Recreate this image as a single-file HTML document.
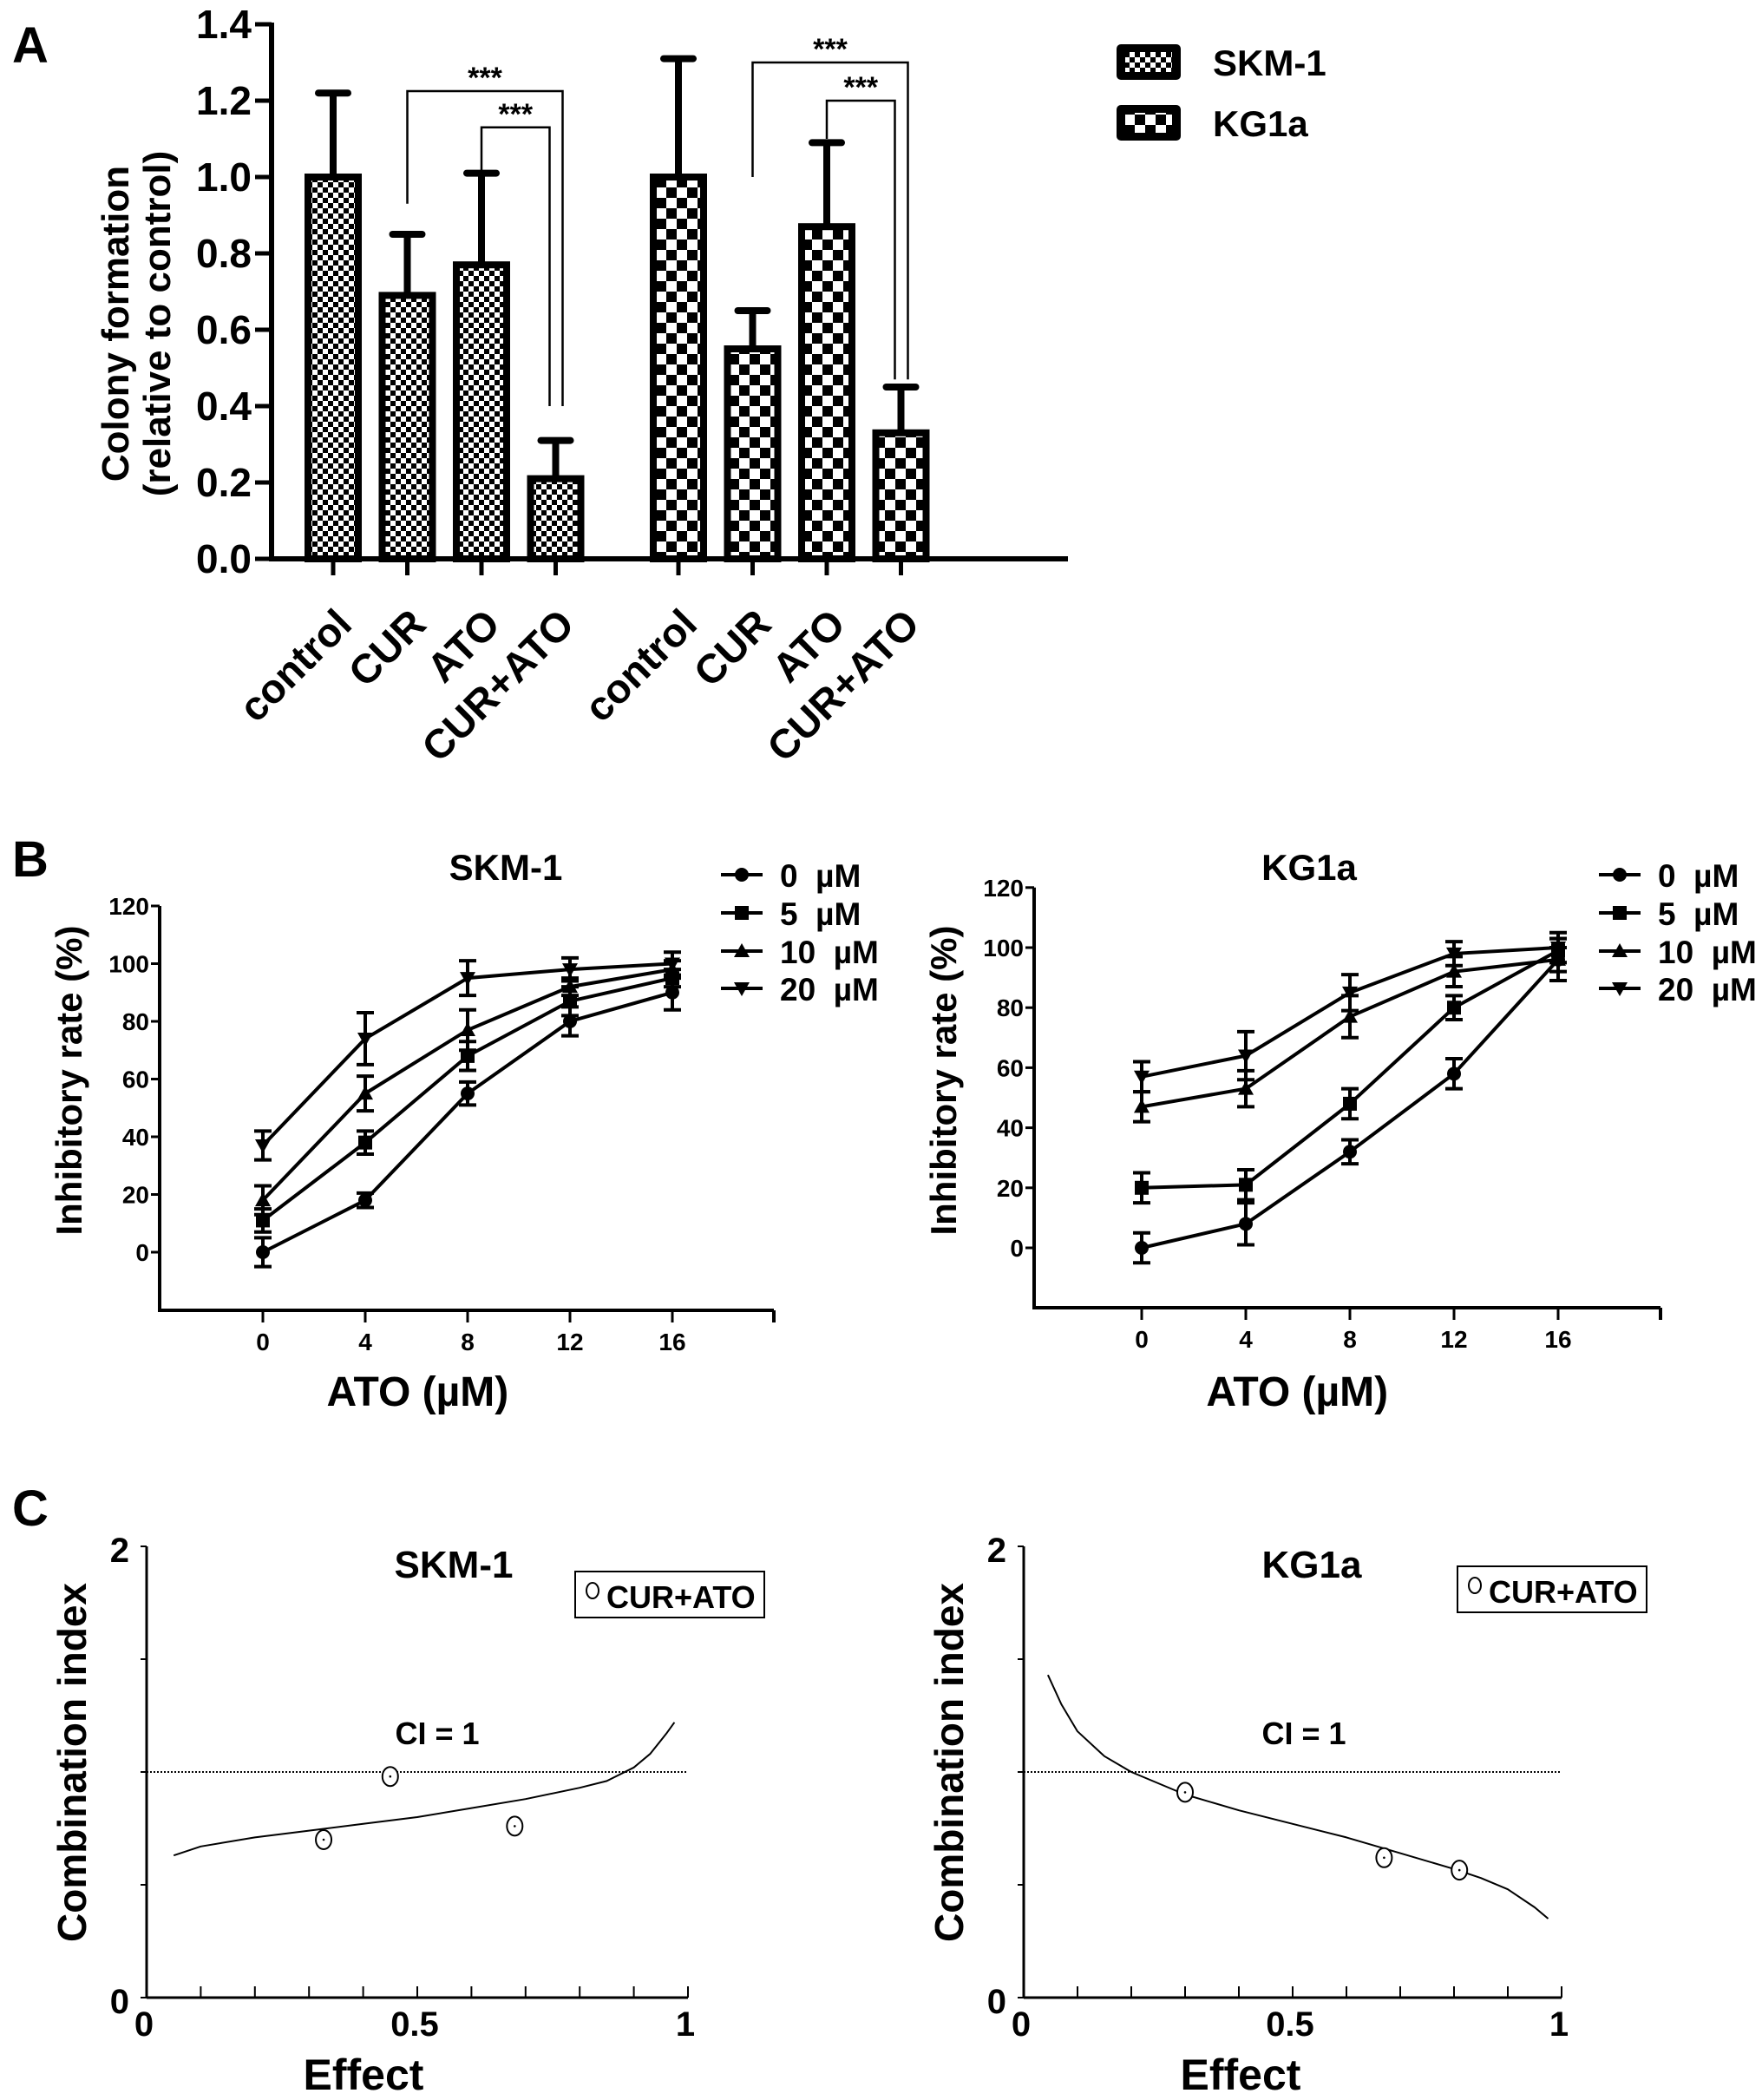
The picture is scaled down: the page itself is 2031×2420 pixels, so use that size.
<!DOCTYPE html>
<html><head><meta charset="utf-8">
<style>
html,body{margin:0;padding:0;background:#fff;}
svg{display:block;}
text{font-family:"Liberation Sans",Arial,sans-serif;font-weight:bold;fill:#000;}
.n{font-family:"Liberation Sans Narrow","Liberation Sans",Arial,sans-serif;}
</style></head>
<body>
<svg id="fig" width="2031" height="2420" viewBox="0 0 2031 2420" xmlns="http://www.w3.org/2000/svg">
<defs>
<pattern id="patS" width="12" height="12" patternUnits="userSpaceOnUse"><rect width="12" height="12" fill="#fff"/><rect width="6" height="6" fill="#000"/><rect x="6" y="6" width="6" height="6" fill="#000"/></pattern>
<pattern id="patK" width="24" height="24" patternUnits="userSpaceOnUse"><rect width="24" height="24" fill="#fff"/><rect width="12" height="12" fill="#000"/><rect x="12" y="12" width="12" height="12" fill="#000"/></pattern>
</defs>
<text x="14" y="72" font-size="58">A</text>
<text x="14" y="1010" font-size="58">B</text>
<text x="14" y="1758" font-size="58">C</text>
<g id="gA"></g>
<g id="gB1"></g>
<g id="gB2"></g>
<g id="gC1"></g>
<g id="gC2"></g>
</svg>
<script>
// ---------- Panel A data ----------
const aCategories = ["control","CUR","ATO","CUR+ATO"];
const aGroups = ["SKM-1","KG1a"];
const aSkmValues = [1.0, 0.69, 0.77, 0.21];
const aSkmErrors = [0.22, 0.16, 0.24, 0.10];
const aKgValues = [1.0, 0.55, 0.87, 0.33];
const aKgErrors = [0.31, 0.10, 0.22, 0.12];
const aTicks = [0.0,0.2,0.4,0.6,0.8,1.0,1.2,1.4];
const aTickLabels = ["0.0","0.2","0.4","0.6","0.8","1.0","1.2","1.4"];
const aBrGroup = [0,0,1,1];
const aBrFrom = [1,2,1,2];
const aBrTo = [3,3,3,3];
const aBrTop = [1.225,1.13,1.30,1.20];
const aBrLeftEnd = [0.93,1.015,1.0,1.10];
const aBrRightEnd = [0.40,0.40,0.47,0.47];
const aBrLabel = ["***","***","***","***"];

// ---------- Panel B data ----------
const bX = [0,4,8,12,16];
const bXTickLabels = ["0","4","8","12","16"];
const bYTicks = [0,20,40,60,80,100,120];
const bSeriesNames = ["0\u00a0\u00a0\u00b5M","5\u00a0\u00a0\u00b5M","10\u00a0\u00a0\u00b5M","20\u00a0\u00a0\u00b5M"];
const bSkm0 = [0,18,55,80,90];   const bSkm0Err = [5,2.5,4,5,6];
const bSkm5 = [11,38,68,87,95];  const bSkm5Err = [4,4,5,5,3];
const bSkm10 = [18,55,77,92,98]; const bSkm10Err = [5,6,7,3,3];
const bSkm20 = [37,74,95,98,100];const bSkm20Err = [5,9,6,4,4];
const bKg0 = [0,8,32,58,96];     const bKg0Err = [5,7,4,5,4];
const bKg5 = [20,21,48,80,99];   const bKg5Err = [5,5,5,4,4];
const bKg10 = [47,53,77,92,96];  const bKg10Err = [5,6,7,5,7];
const bKg20 = [57,64,85,98,100]; const bKg20Err = [5,8,6,4,5];

// ---------- Panel C data ----------
const cXTicks = [0,0.5,1];
const cXTickLabels = ["0","0.5","1"];
const cSkmPtsX = [0.327,0.45,0.68];
const cSkmPtsY = [0.70,0.98,0.76];
const cSkmCurveX = [0.05,0.1,0.2,0.3,0.4,0.5,0.6,0.7,0.8,0.85,0.9,0.93,0.96,0.975];
const cSkmCurveY = [0.63,0.67,0.71,0.74,0.77,0.80,0.84,0.88,0.93,0.96,1.02,1.08,1.17,1.22];
const cKgPtsX = [0.30,0.67,0.81];
const cKgPtsY = [0.91,0.62,0.565];
const cKgCurveX = [0.045,0.07,0.1,0.15,0.2,0.3,0.4,0.5,0.6,0.7,0.8,0.85,0.9,0.95,0.975];
const cKgCurveY = [1.43,1.30,1.18,1.07,1.0,0.90,0.83,0.77,0.71,0.64,0.57,0.53,0.48,0.40,0.35];

const NS="http://www.w3.org/2000/svg";
function mk(parent,tag,attrs){const e=document.createElementNS(NS,tag);for(const k in attrs)e.setAttribute(k,attrs[k]);parent.appendChild(e);return e;}
function txt(parent,x,y,s,size,anchor,cls){const t=mk(parent,"text",{x:x,y:y,"font-size":size,"text-anchor":anchor||"start"});if(cls)t.setAttribute("class",cls);t.textContent=s;return t;}

// ================= PANEL A =================
(function(){
  const g=document.getElementById("gA");
  const y0=644, pxPer=440;
  const yA=v=>y0-v*pxPer;
  const gStart=[384,782], step=85.5, bw=58;
  const xA=(gi,i)=>gStart[gi]+i*step;
  let ax=mk(g,"line",{x1:313,y1:yA(1.4)-2,x2:313,y2:y0+3,stroke:"#000","stroke-width":6});
  
  
  ax=mk(g,"line",{x1:310,y1:y0,x2:1231,y2:y0,stroke:"#000","stroke-width":6});
  
  
  aTicks.forEach((v,i)=>{
    const l=mk(g,"line",{x1:294,y1:yA(v),x2:313,y2:yA(v),stroke:"#000","stroke-width":5});
    
    
    const t=txt(g,290,yA(v)+16,aTickLabels[i],46,"end","n");
    
    
  });
  const t1=txt(g,0,0,"Colony formation",44,"middle");
  t1.setAttribute("transform","translate(148,373) rotate(-90)");
  
  
  const t2=txt(g,0,0,"(relative to control)",44,"middle");
  t2.setAttribute("transform","translate(196,373) rotate(-90)");
  
  
  const series=[[aSkmValues,aSkmErrors,"url(#patS)"],[aKgValues,aKgErrors,"url(#patK)"]];
  series.forEach((s,gi)=>{
    s[0].forEach((v,i)=>{
      const cx=xA(gi,i);
      const e=mk(g,"line",{x1:cx,y1:yA(v),x2:cx,y2:yA(v+s[1][i]),stroke:"#000","stroke-width":8});
      
      
      const c=mk(g,"line",{x1:cx-17,y1:yA(v+s[1][i]),x2:cx+17,y2:yA(v+s[1][i]),stroke:"#000","stroke-width":8,"stroke-linecap":"round"});
      
      
      const r=mk(g,"rect",{x:cx-bw/2,y:yA(v),width:bw,height:y0-yA(v),fill:s[2],stroke:"#000","stroke-width":8});
      
      
      const tk=mk(g,"line",{x1:cx,y1:y0,x2:cx,y2:663,stroke:"#000","stroke-width":5});
      
      
      const lb=txt(g,0,0,aCategories[i],47,"end");
      lb.setAttribute("transform","translate("+(cx+24)+",722) rotate(-45)");
      
      
    });
  });
  aBrGroup.forEach((gi,k)=>{
    const xl=xA(gi,aBrFrom[k]);
    const xr=xA(gi,aBrTo[k])+(aBrFrom[k]===1?8:-7);
    const p=mk(g,"polyline",{points:xl+","+yA(aBrLeftEnd[k])+" "+xl+","+yA(aBrTop[k])+" "+xr+","+yA(aBrTop[k])+" "+xr+","+yA(aBrRightEnd[k]),fill:"none",stroke:"#000","stroke-width":2.5});
    
    
    const s=mk(g,"text",{x:(xl+xr)/2,y:yA(aBrTop[k])-4,"font-size":34,"text-anchor":"middle","font-weight":"normal"});
    s.textContent=aBrLabel[k];
    
    
  });
  const legY=[51,121];const pats=["url(#patS)","url(#patK)"];
  aGroups.forEach((n,i)=>{
    const r=mk(g,"rect",{x:1287,y:legY[i],width:74,height:41,rx:5,fill:"#000"});
    
    
    const r2=mk(g,"rect",{x:1297,y:legY[i]+9,width:54,height:23,fill:pats[i]});
    
    
    const t=txt(g,1398,legY[i]+36,n,42,"start");
    
    
  });
})();

// ================= PANEL B =================
function drawB(gid,cfg,series,errs,title){
  const g=document.getElementById(gid);
  const xB=v=>cfg.x0+v*cfg.step/4;
  const yB=v=>cfg.yZero-v*cfg.per20/20;
  let a=mk(g,"line",{x1:cfg.ax,y1:yB(120),x2:cfg.ax,y2:cfg.bottom+2,stroke:"#000","stroke-width":4});
  
  
  a=mk(g,"line",{x1:cfg.ax-2,y1:cfg.bottom,x2:cfg.xEnd,y2:cfg.bottom,stroke:"#000","stroke-width":4});
  
  
  const e=mk(g,"line",{x1:cfg.xEnd,y1:cfg.bottom,x2:cfg.xEnd,y2:cfg.bottom+14,stroke:"#000","stroke-width":4});
  
  
  bYTicks.forEach(v=>{
    const l=mk(g,"line",{x1:cfg.ax-10,y1:yB(v),x2:cfg.ax,y2:yB(v),stroke:"#000","stroke-width":3});
    
    
    const t=txt(g,cfg.ax-12,yB(v)+10,String(v),28,"end","n");
    
    
  });
  bX.forEach((v,i)=>{
    const l=mk(g,"line",{x1:xB(v),y1:cfg.bottom,x2:xB(v),y2:cfg.bottom+14,stroke:"#000","stroke-width":3});
    
    
    const t=txt(g,xB(v),cfg.bottom+46,bXTickLabels[i],28,"middle","n");
    
    
  });
  let t=txt(g,cfg.ax+(cfg.xEnd-cfg.ax)*0.42,1620,"ATO (\u00b5M)",48,"middle","n");
  
  
  t=txt(g,0,0,"Inhibitory rate (%)",42,"middle");
  t.setAttribute("transform","translate("+(cfg.ax-90)+",1245) rotate(-90)");
  
  
  t=txt(g,cfg.titleX,1014,title,42,"middle","n");
  
  
  const markers=["circle","square","tri","itri"];
  function marker(x,y,m){
    let el;
    if(m==="circle")el=mk(g,"circle",{cx:x,cy:y,r:8,fill:"#000"});
    else if(m==="square")el=mk(g,"rect",{x:x-8,y:y-8,width:16,height:16,fill:"#000"});
    else if(m==="tri")el=mk(g,"polygon",{points:x+","+(y-9)+" "+(x-9)+","+(y+7)+" "+(x+9)+","+(y+7),fill:"#000"});
    else el=mk(g,"polygon",{points:x+","+(y+9)+" "+(x-9)+","+(y-7)+" "+(x+9)+","+(y-7),fill:"#000"});
    return el;
  }
  series.forEach((s,k)=>{
    const pl=mk(g,"polyline",{points:s.map((v,i)=>xB(bX[i])+","+yB(v)).join(" "),fill:"none",stroke:"#000","stroke-width":4});
    
    
    s.forEach((v,i)=>{
      const x=xB(bX[i]),er=errs[k][i];
      const eb=mk(g,"path",{d:"M"+x+","+yB(v-er)+"V"+yB(v+er)+"M"+(x-10)+","+yB(v-er)+"H"+(x+10)+"M"+(x-10)+","+yB(v+er)+"H"+(x+10),stroke:"#000","stroke-width":4,fill:"none"});
      
      
      const m=marker(x,yB(v),markers[k]);
      
      
    });
  });
  const rows=[1008,1052,1096,1139];
  bSeriesNames.forEach((n,k)=>{
    const l=mk(g,"line",{x1:cfg.legX-24,y1:rows[k],x2:cfg.legX+24,y2:rows[k],stroke:"#000","stroke-width":4});
    
    
    const m=marker(cfg.legX,rows[k],markers[k]);
    
    
    const tt=txt(g,cfg.legX+44,rows[k]+14,n,37,"start","n");
    
    
  });
}
drawB("gB1",{ax:184,x0:303,step:118,yZero:1443,per20:66.5,bottom:1510,xEnd:892,titleX:583,legX:855},
  [bSkm0,bSkm5,bSkm10,bSkm20],[bSkm0Err,bSkm5Err,bSkm10Err,bSkm20Err],"SKM-1");
drawB("gB2",{ax:1192,x0:1316,step:120,yZero:1438,per20:69.2,bottom:1507,xEnd:1914,titleX:1509,legX:1867},
  [bKg0,bKg5,bKg10,bKg20],[bKg0Err,bKg5Err,bKg10Err,bKg20Err],"KG1a");

// ================= PANEL C =================
function drawC(gid,cfg,px,py,cx,cy,title){
  const g=document.getElementById(gid);
  const xC=v=>cfg.ax+v*cfg.w;
  const yC=v=>2302-v*260;
  let a=mk(g,"line",{x1:cfg.ax,y1:yC(2),x2:cfg.ax,y2:yC(0),stroke:"#000","stroke-width":3});
  
  
  a=mk(g,"line",{x1:cfg.ax,y1:yC(0),x2:xC(1),y2:yC(0),stroke:"#000","stroke-width":3});
  
  
  for(let k=0;k<=4;k++){
    const l=mk(g,"line",{x1:cfg.ax-7,y1:yC(k*0.5),x2:cfg.ax,y2:yC(k*0.5),stroke:"#000","stroke-width":2});
    
    
  }
  for(let k=1;k<=10;k++){
    const l=mk(g,"line",{x1:xC(k/10),y1:yC(0),x2:xC(k/10),y2:yC(0)-13,stroke:"#000","stroke-width":2});
    
    
  }
  let t=txt(g,cfg.ax-20,1800,"2",40,"end","n");
  
  
  t=txt(g,cfg.ax-20,2320,"0",40,"end","n");
  
  
  cXTicks.forEach((v,i)=>{
    const tt=txt(g,xC(v)-3,2346,cXTickLabels[i],40,"middle","n");
    
    
  });
  t=txt(g,cfg.ax+250,2408,"Effect",50,"middle","n");
  
  
  t=txt(g,0,0,"Combination index",46,"middle");
  t.setAttribute("transform","translate("+(cfg.ax-70)+",2031) rotate(-90)");
  
  
  t=txt(g,cfg.titleX,1818,title,44,"middle","n");
  
  
  const d=mk(g,"line",{x1:cfg.ax,y1:yC(1),x2:xC(1),y2:yC(1),stroke:"#000","stroke-width":2,"stroke-dasharray":"2,2"});
  
  
  t=txt(g,cfg.ciX,2010,"CI = 1",36,"middle","n");
  
  
  const cv=mk(g,"polyline",{points:cx.map((v,i)=>xC(v)+","+yC(cy[i])).join(" "),fill:"none",stroke:"#000","stroke-width":2,"stroke-linejoin":"round"});
  
  
  px.forEach((v,i)=>{
    const c=mk(g,"ellipse",{cx:xC(v),cy:yC(py[i]),rx:9,ry:11,fill:"#fff",stroke:"#000","stroke-width":2});
    
    
    const dd=mk(g,"circle",{cx:xC(v),cy:yC(py[i]),r:1.3,fill:"#000"});
    
    
  });
  const b=mk(g,"rect",{x:cfg.legX,y:cfg.legY,width:218,height:53,fill:"#fff",stroke:"#000","stroke-width":2});
  
  
  const lc=mk(g,"ellipse",{cx:cfg.legX+20,cy:cfg.legY+22,rx:7,ry:9,fill:"#fff",stroke:"#000","stroke-width":2});
  
  
  t=txt(g,cfg.legX+36,cfg.legY+42,"CUR+ATO",36,"start","n");
  
  
}
drawC("gC1",{ax:169,w:624,titleX:523,ciX:504,legX:663,legY:1811},cSkmPtsX,cSkmPtsY,cSkmCurveX,cSkmCurveY,"SKM-1");
drawC("gC2",{ax:1180,w:620,titleX:1512,ciX:1503,legX:1680,legY:1805},cKgPtsX,cKgPtsY,cKgCurveX,cKgCurveY,"KG1a");
</script>
</body></html>
